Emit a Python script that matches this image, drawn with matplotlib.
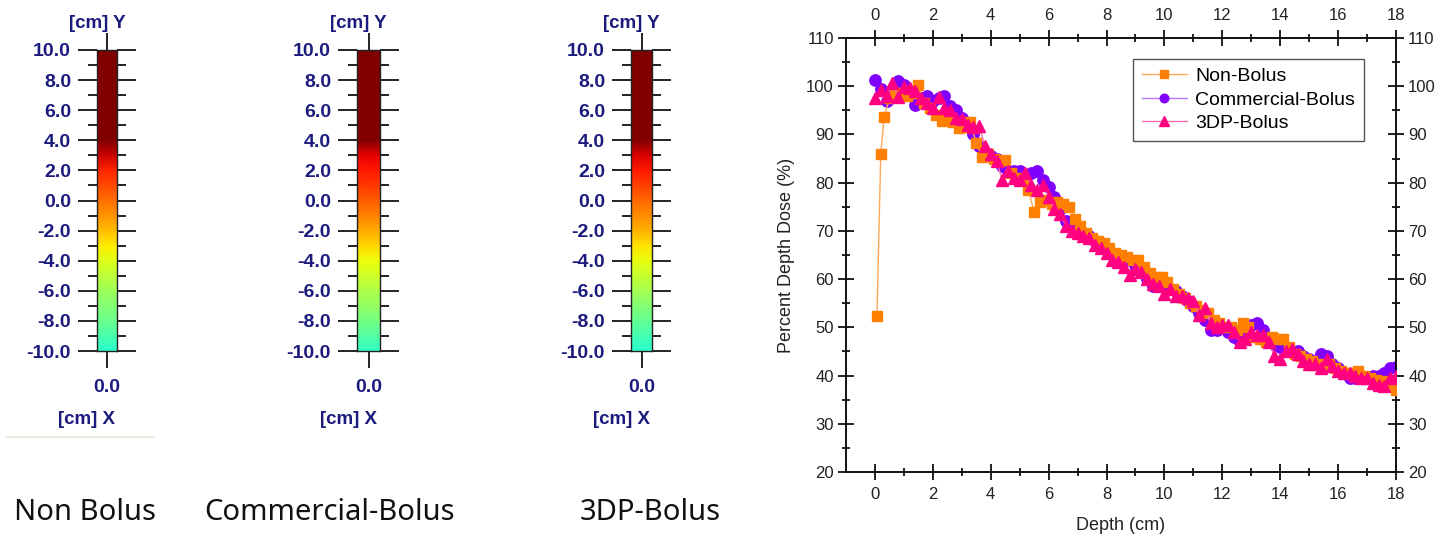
import numpy as np
import matplotlib
matplotlib.use('Agg')
import matplotlib.pyplot as plt
from matplotlib.lines import Line2D
from matplotlib.ticker import FormatStrFormatter

# ---- film strips: colour level (0-1 on jet) along the strip, y = -10 .. 10 cm ----
strip_y = [-10, -9, -8, -7, -6, -5, -4, -3, -2, -1, 0, 1, 2, 3, 4, 5, 6, 7, 8, 9, 10]
level_non = [0.40, 0.44, 0.48, 0.51, 0.54, 0.58, 0.62, 0.66, 0.71, 0.75, 0.79,
             0.83, 0.87, 0.93, 1.0, 1.0, 1.0, 1.0, 1.0, 1.0, 1.0]
level_com = [0.41, 0.45, 0.49, 0.53, 0.56, 0.60, 0.64, 0.68, 0.73, 0.77, 0.81,
             0.85, 0.88, 0.91, 1.0, 1.0, 1.0, 1.0, 1.0, 1.0, 1.0]
level_3dp = [0.40, 0.43, 0.47, 0.51, 0.55, 0.59, 0.63, 0.67, 0.72, 0.76, 0.80,
             0.84, 0.88, 0.92, 1.0, 1.0, 1.0, 1.0, 1.0, 1.0, 1.0]
strip_names = ['Non Bolus', 'Commercial-Bolus', '3DP-Bolus']
strip_levels = [level_non, level_com, level_3dp]

# ---- percent depth dose curves ----
depth_non = [0.07, 0.2, 0.32,
             0.5, 0.7, 0.9, 1.1, 1.3, 1.5, 1.7, 1.9, 2.1, 2.3,
             2.5, 2.7, 2.9, 3.1, 3.3, 3.5, 3.7, 3.9, 4.1, 4.3,
             4.5, 4.7, 4.9, 5.1, 5.3, 5.5, 5.7, 5.9, 6.1, 6.3,
             6.5, 6.7, 6.9, 7.1, 7.3, 7.5, 7.7, 7.9, 8.1, 8.3,
             8.5, 8.7, 8.9, 9.1, 9.3, 9.5, 9.7, 9.9, 10.1, 10.3,
             10.5, 10.7, 10.9, 11.1, 11.3, 11.5, 11.7, 11.9, 12.1, 12.3,
             12.5, 12.7, 12.9, 13.1, 13.3, 13.5, 13.7, 13.9, 14.1, 14.3,
             14.5, 14.7, 14.9, 15.1, 15.3, 15.5, 15.7, 15.9, 16.1, 16.3,
             16.5, 16.7, 16.9, 17.1, 17.3, 17.5, 17.7, 17.9, 18.0]
pdd_non = [52.3, 85.9, 93.7,
           97.5, 98.5, 98.5, 97.9, 98.5, 100.2, 96.5, 95.5, 94.0, 92.7,
           93.0, 92.5, 91.3, 91.5, 92.5, 88.2, 85.4, 86.0, 85.0, 84.5,
           84.7, 82.0, 81.0, 80.5, 78.5, 74.0, 76.0, 76.5, 75.5, 76.0,
           75.5, 75.0, 72.5, 71.0, 69.5, 68.5, 68.0, 67.5, 66.5, 65.5,
           65.0, 64.5, 64.0, 64.0, 62.5, 61.3, 60.5, 60.5, 59.5, 58.0,
           57.0, 56.0, 55.0, 54.5, 53.5, 53.0, 51.5, 51.0, 50.0, 50.0,
           49.5, 51.0, 50.0, 48.0, 47.5, 47.0, 48.0, 47.5, 47.5, 46.0,
           44.5, 44.0, 43.5, 43.0, 42.5, 42.0, 42.5, 41.5, 41.0, 40.5,
           40.5, 41.0, 40.0, 39.5, 39.0, 38.8, 38.5, 38.0, 37.0]

depth_bolus = [0.0, 0.2, 0.4, 0.6, 0.8, 1.0, 1.2, 1.4, 1.6, 1.8,
               2.0, 2.2, 2.4, 2.6, 2.8, 3.0, 3.2, 3.4, 3.6, 3.8,
               4.0, 4.2, 4.4, 4.6, 4.8, 5.0, 5.2, 5.4, 5.6, 5.8,
               6.0, 6.2, 6.4, 6.6, 6.8, 7.0, 7.2, 7.4, 7.6, 7.8,
               8.0, 8.2, 8.4, 8.6, 8.8, 9.0, 9.2, 9.4, 9.6, 9.8,
               10.0, 10.2, 10.4, 10.6, 10.8, 11.0, 11.2, 11.4, 11.6, 11.8,
               12.0, 12.2, 12.4, 12.6, 12.8, 13.0, 13.2, 13.4, 13.6, 13.8,
               14.0, 14.2, 14.4, 14.6, 14.8, 15.0, 15.2, 15.4, 15.6, 15.8,
               16.0, 16.2, 16.4, 16.6, 16.8, 17.0, 17.2, 17.4, 17.6, 17.8,
               18.0]
pdd_com = [101.2, 99.5, 97.0, 99.0, 101.0, 100.2, 98.5, 96.2, 97.5, 98.0,
           97.0, 97.5, 98.0, 96.0, 95.0, 93.5, 92.0, 90.0, 87.5, 86.0,
           85.5, 85.0, 83.5, 82.5, 82.5, 82.5, 81.5, 82.0, 82.5, 80.5,
           79.0, 77.0, 74.5, 72.0, 70.5, 70.0, 69.5, 69.0, 68.0, 67.5,
           66.0, 65.5, 65.0, 64.5, 64.0, 63.0, 61.5, 60.0, 58.5, 59.0,
           58.5, 58.0, 57.5, 56.5, 55.5, 54.5, 53.0, 51.5, 49.5, 49.5,
           50.0, 49.0, 48.0, 47.0, 48.0, 50.5, 51.0, 49.5, 47.5, 46.5,
           46.0, 45.5, 45.0, 45.0, 44.0, 43.5, 43.0, 44.5, 44.0, 42.5,
           41.5, 40.5, 39.5, 39.5, 40.0, 39.5, 40.0, 40.0, 40.5, 41.5,
           41.8]
pdd_3dp = [97.5, 99.3, 98.0, 100.6, 97.8, 99.8, 99.6, 99.0, 97.5, 96.5,
           95.5, 97.8, 95.4, 95.0, 93.5, 93.1, 92.0, 91.5, 91.8, 87.5,
           86.0, 84.5, 80.5, 82.5, 81.0, 80.5, 82.0, 79.5, 78.5, 79.5,
           77.0, 74.5, 73.5, 71.0, 70.0, 69.5, 69.0, 68.5, 67.0, 66.5,
           65.5, 64.0, 63.5, 62.5, 60.8, 62.0, 61.5, 60.0, 59.0, 58.5,
           57.0, 58.0, 56.5, 56.5, 56.0, 55.5, 52.5, 54.0, 51.0, 50.0,
           50.5, 50.5, 49.0, 47.0, 47.5, 49.0, 48.5, 48.5, 47.0, 44.0,
           43.5, 45.0, 45.5, 44.5, 43.0, 42.5, 42.5, 41.5, 43.5, 42.0,
           41.0, 40.5, 40.5, 40.0, 39.5, 39.5, 38.5, 38.0, 37.8, 39.5,
           40.0]

W, H = 1450, 538
navy = '#1b1b7e'
plt.rcParams['font.family'] = ['Liberation Sans', 'DejaVu Sans']

fig = plt.figure(figsize=(W / 100, H / 100), dpi=100)

# film strips (pixel layout of the reference)
strip_left = [97, 357, 631]
strip_width = [20, 23, 21]
caption_x = [85, 330, 650]
for name, lv, left, w, cx in zip(strip_names, strip_levels, strip_left, strip_width, caption_x):
    ax = fig.add_axes([left / W, (H - 351) / H, w / W, 301 / H])
    c = np.column_stack([lv, lv])
    ax.pcolormesh([-1, 1], strip_y, c, cmap='jet', vmin=0, vmax=1, shading='gouraud')
    ax.set_xlim(-1, 1)
    ax.set_ylim(-10, 10)
    for s in ax.spines.values():
        s.set_color('#222222')
        s.set_linewidth(1.0)
    # y ticks on both sides
    ax.set_yticks(range(-10, 11, 2))
    ax.set_yticks(range(-9, 10, 2), minor=True)
    ax.yaxis.set_major_formatter(FormatStrFormatter('%.1f'))
    ax.tick_params(axis='y', which='both', left=True, right=True, direction='out',
                   color='#222222', width=1.4, labelcolor=navy)
    ax.tick_params(axis='y', which='major', length=13.7, pad=5, labelsize=14)
    ax.tick_params(axis='y', which='minor', length=6.5)
    # single x tick at the centre
    ax.set_xticks([0])
    ax.set_xticklabels(['0.0'])
    ax.tick_params(axis='x', top=True, bottom=True, direction='out', length=12.5,
                   width=1.4, color='#222222', pad=8, labelsize=14, labelcolor=navy)
    plt.setp(ax.get_yticklabels() + ax.get_xticklabels(), fontweight='bold')
    mid = left + w / 2
    fig.text((mid - 20) / W, 1 - 420 / H, '[cm] X', ha='center', va='center',
             fontsize=13.5, fontweight='bold', color=navy)
    fig.text((mid - 10) / W, 1 - 23 / H, '[cm] Y', ha='center', va='center',
             fontsize=13.5, fontweight='bold', color=navy)
    fig.text(cx / W, 1 - 512 / H, name, ha='center', va='center', fontsize=21,
             family=['Noto Sans', 'DejaVu Sans'], color='#111111')

# faint separator under first strip
fig.add_artist(Line2D([7 / W, 154 / W], [1 - 437 / H, 1 - 437 / H], color='#ebebe3', lw=1.5))

# depth dose chart
ax = fig.add_axes([846 / W, (H - 472) / H, 550 / W, 434 / H])
ax.plot(depth_non, pdd_non, '-', color='#ffa85a', lw=1.0, marker='s', ms=7.3,
        mfc='#ff8000', mec='#ff8000', label='Non-Bolus', zorder=3)
ax.plot(depth_bolus, pdd_com, '-', color='#b77cff', lw=1.0, marker='o', ms=8.2,
        mfc='#8000ff', mec='#8000ff', label='Commercial-Bolus', zorder=2)
ax.plot(depth_bolus, pdd_3dp, '-', color='#ff6fae', lw=1.0, marker='^', ms=8.8,
        mfc='#ff0080', mec='#ff0080', label='3DP-Bolus', zorder=4)

ax.set_xlim(-1, 18)
ax.set_ylim(20, 110)
ax.set_xticks(range(0, 19, 2))
ax.set_xticks(range(1, 18, 2), minor=True)
ax.set_yticks(range(20, 111, 10))
ax.set_yticks(range(25, 110, 10), minor=True)
ax.tick_params(which='both', direction='inout', top=True, right=True, color='#111111',
               width=1.3, labelsize=12, labelcolor='#222222')
ax.tick_params(axis='x', which='both', labeltop=True, pad=5)
ax.tick_params(axis='y', which='both', labelright=True, pad=3)
ax.tick_params(which='major', length=11.5)
ax.tick_params(which='minor', length=6)
for s in ax.spines.values():
    s.set_linewidth(1.4)
    s.set_color('#111111')
ax.set_xlabel('Depth (cm)', fontsize=13, color='#222222', labelpad=11)
ax.set_ylabel('Percent Depth Dose (%)', fontsize=13, color='#222222', labelpad=8)

leg = ax.legend(loc='upper left', bbox_to_anchor=(0.522, 0.952), borderaxespad=0,
                fancybox=False, edgecolor='#555555', framealpha=1, fontsize=14,
                handlelength=2.3, handletextpad=0.45, labelspacing=0.3, borderpad=0.45,
                markerscale=0.75)
leg.get_frame().set_linewidth(1.0)

plt.savefig('out.png', dpi=100)
